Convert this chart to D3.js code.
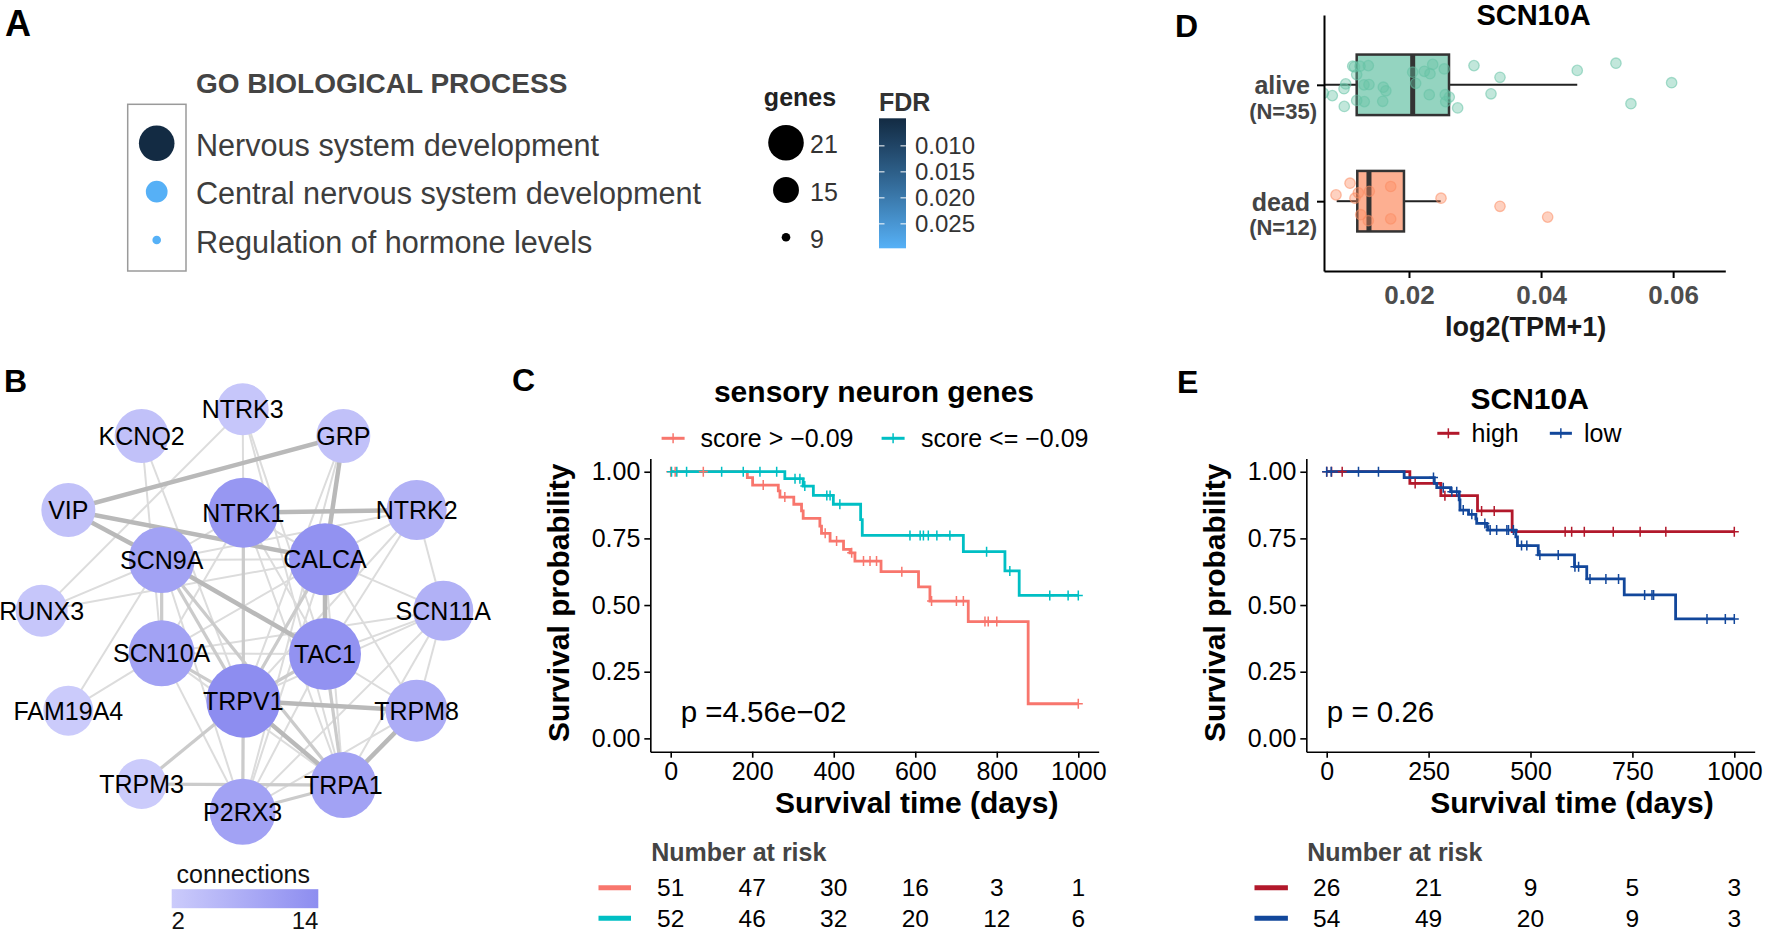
<!DOCTYPE html>
<html><head><meta charset="utf-8">
<script src="https://cdn.jsdelivr.net/npm/d3@7"></script>
<style>body{margin:0;background:#fff;}svg{display:block;}text{font-family:"Liberation Sans",Arial,Helvetica,sans-serif;}</style>
</head><body><svg id="chart" width="1770" height="936"></svg>
<script>
// ================= DATA =================
// Panel A
const goTerms = ["Nervous system development","Central nervous system development","Regulation of hormone levels"];
const goGenes = [21, 13, 9];
const goFDR = [0.0047, 0.0296, 0.0297];
const geneLegend = [21, 15, 9];
const fdrTicks = [0.010, 0.015, 0.020, 0.025];
const fdrRange = [0.0047, 0.0297];

// Panel B (layout coordinates in layout units)
const geneNames = ["NTRK3","KCNQ2","GRP","VIP","NTRK1","NTRK2","SCN9A","CALCA","RUNX3","SCN11A","SCN10A","TAC1","FAM19A4","TRPV1","TRPM8","TRPM3","TRPA1","P2RX3"];
const geneConnections = [3,4,4,4,12,7,10,13,3,7,10,13,2,14,8,2,10,10];
const layoutX = [728,425,1030,205,730,1250,485,975,125,1330,485,975,205,730,1250,425,1030,728];
const layoutY = [148,228,228,450,458,450,600,598,752,752,880,882,1052,1022,1052,1272,1275,1355];
const edges = [
 ["VIP","GRP",3],["VIP","CALCA",3],["VIP","SCN9A",3],["NTRK1","NTRK2",3],["SCN9A","TAC1",3],
 ["GRP","CALCA",3],["CALCA","TAC1",3],["TRPV1","TRPM8",3],["TRPV1","TRPA1",3],["TRPA1","TRPM8",3],
 ["SCN10A","TRPV1",2],["TRPV1","CALCA",2],["TRPV1","TAC1",2],["TRPV1","P2RX3",2],["NTRK1","TRPV1",2],
 ["TRPM3","TRPA1",2],["TRPM3","TRPV1",2],["SCN9A","SCN10A",2],["SCN9A","TRPV1",2],["SCN9A","TRPA1",2],
 ["P2RX3","TRPA1",2],["TAC1","TRPA1",2],["SCN9A","P2RX3",1],["CALCA","TRPA1",1],["TAC1","P2RX3",1],
 ["SCN10A","TAC1",1],["SCN10A","P2RX3",1],["SCN10A","TRPA1",1],["SCN10A","CALCA",1],["NTRK3","NTRK1",1],
 ["NTRK3","RUNX3",1],["NTRK3","TAC1",1],["NTRK3","TRPA1",1],["KCNQ2","SCN10A",1],["KCNQ2","TRPV1",1],
 ["GRP","TRPV1",1],["GRP","P2RX3",1],["RUNX3","SCN9A",1],["RUNX3","CALCA",1],["FAM19A4","SCN10A",1],
 ["FAM19A4","SCN9A",1],["NTRK2","CALCA",1],["NTRK2","SCN9A",1],["NTRK2","TRPV1",1],["NTRK2","SCN11A",1],
 ["NTRK2","TAC1",1],["SCN11A","SCN10A",1],["SCN11A","TRPV1",1],["SCN11A","TAC1",1],["SCN11A","TRPA1",1],
 ["SCN11A","CALCA",1],["SCN11A","TRPM8",1],["SCN11A","P2RX3",1],["CALCA","TRPM8",1],["CALCA","P2RX3",1],
 ["TAC1","TRPM8",1],["P2RX3","TRPM8",1],["NTRK1","TAC1",1],["NTRK1","TRPA1",1],["NTRK1","SCN10A",1],
 ["NTRK1","CALCA",1],["SCN9A","CALCA",1],["SCN9A","NTRK1",1]
];
const connLegend = [2, 14];

// Panel C
const cTimeTicks = [0,200,400,600,800,1000];
const cLabels = ["score > \u22120.09","score <= \u22120.09"];
const cHighTimes = [188,201,264,268,302,321,325,366,370,391,424,440,452,516,608,636,730,877];
const cHighSurv = [0.978,0.95,0.928,0.905,0.878,0.853,0.825,0.796,0.769,0.74,0.709,0.696,0.665,0.625,0.568,0.515,0.438,0.13];
const cHighCensor = [0,11,80,227,280,379,407,444,473,489,505,567,640,701,718,771,779,800,1000];
const cLowTimes = [280,325,350,399,466,470,718,820,855];
const cLowSurv = [0.974,0.946,0.911,0.878,0.82,0.761,0.70,0.628,0.536];
const cLowCensor = [2,15,39,125,178,219,260,305,317,329,383,391,415,587,612,620,632,653,685,775,832,930,975,1000];
const cRiskHigh = [51,47,30,16,3,1];
const cRiskLow = [52,46,32,20,12,6];
const cPValue = "p =4.56e\u221202";

// Panel D
const dGroups = ["alive","dead"];
const dGroupN = [35,12];
const dTicks = [0.02,0.04,0.06];
const aliveStats = [0.00703,0.01208,0.02056,0.02606,0.04548]; // lower whisker, Q1, median, Q3, upper whisker
const deadStats = [0.00905,0.01217,0.01394,0.01924,0.0248];
const aliveValues = [0.00703,0.00839,0.01020,0.01016,0.01042,0.01148,0.01208,0.01258,0.01208,0.01319,0.01323,0.01384,0.01394,0.01611,0.01602,0.02056,0.02101,0.02232,0.02307,0.02318,0.02359,0.02534,0.02610,0.02556,0.02737,0.02984,0.03378,0.03242,0.04548,0.05134,0.05361,0.05977,0.01175,0.0255,0.0165];
const aliveJitter = [0.28,0.36,0.72,0.13,-0.03,-0.62,-0.34,-0.62,0.52,0,0.56,-0.64,-0.01,0.08,0.55,-0.42,-0.05,-0.45,0.33,-0.37,-0.68,-0.53,0.41,0.56,0.77,-0.64,-0.25,0.30,-0.48,-0.72,0.63,-0.07,-0.60,0.33,0.20];
const deadValues = [0.00895,0.01107,0.01182,0.01233,0.01269,0.01384,0.01399,0.01723,0.01723,0.02485,0.03378,0.041];
const deadJitter = [-0.21,-0.60,-0.10,-0.28,0.45,0.65,-0.33,-0.49,0.59,-0.10,0.17,0.53];

// Panel E
const eTimeTicks = [0,250,500,750,1000];
const eLabels = ["high","low"];
const eHighTimes = [204,280,370,455];
const eHighSurv = [0.956,0.91,0.853,0.775];
const eHighCensor = [0,12,38,217,290,380,411,585,601,632,703,769,832,1000];
const eLowTimes = [190,264,270,304,325,327,348,366,368,393,395,464,468,519,608,638,730,856];
const eLowSurv = [0.978,0.956,0.94,0.925,0.894,0.856,0.84,0.823,0.806,0.794,0.781,0.756,0.723,0.688,0.644,0.598,0.538,0.448];
const eLowCensor = [0,11,78,127,262,286,307,319,335,356,388,401,417,442,446,458,478,491,523,568,609,618,646,685,716,780,798,802,933,978,1000];
const eRiskHigh = [26,21,9,5,3];
const eRiskLow = [54,49,20,9,3];
const ePValue = "p = 0.26";

// ================= DRAW =================
const FONT = '"Liberation Sans", Arial, Helvetica, sans-serif';
const svg = d3.select("#chart");
svg.append("rect").attr("width",1770).attr("height",936).attr("fill","#fff");
const defs = svg.append("defs");

function txt(g, s, x, y, size, opts={}) {
  const t = g.append("text").attr("x",x).attr("y",y).attr("font-size",size)
    .attr("font-family",FONT).attr("fill",opts.fill||"#000").text(s);
  if (opts.bold) t.attr("font-weight","bold");
  if (opts.anchor) t.attr("text-anchor",opts.anchor);
  return t;
}

// Panel letters
txt(svg,"A",5,36,36,{bold:true});
txt(svg,"B",4,392,32,{bold:true});
txt(svg,"C",512,391,32,{bold:true});
txt(svg,"D",1175,37,32,{bold:true});
txt(svg,"E",1177,393,32,{bold:true});

// ---------- Panel A ----------
(function(){
  const g = svg.append("g");
  txt(g,"GO BIOLOGICAL PROCESS",196,93,28,{bold:true,fill:"#444"});
  g.append("rect").attr("x",127.7).attr("y",104.3).attr("width",58.3).attr("height",166.7)
    .attr("fill","none").attr("stroke","#9a9a9a").attr("stroke-width",1.5);
  const yTerm = d3.scalePoint().domain(goTerms).range([143.3,240]);
  const area = d3.scaleLinear().domain([9,21]).range([4.3*4.3,17.8*17.8]);
  const rSize = v => Math.sqrt(area(v));
  const fdrColor = d3.scaleLinear().domain(fdrRange).range(["#132B43","#56B1F7"]).interpolate(d3.interpolateLab);
  goTerms.forEach((term,i)=>{
    g.append("circle").attr("cx",156.7).attr("cy",yTerm(term)).attr("r",rSize(goGenes[i])).attr("fill",fdrColor(goFDR[i]));
    txt(g,term,196,yTerm(term)+12.5,30.6,{fill:"#3d3d3d"});
  });
  // genes legend
  txt(g,"genes",800,106,25,{bold:true,anchor:"middle",fill:"#222"});
  const yGene = d3.scalePoint().domain(geneLegend).range([142.7,237.3]);
  geneLegend.forEach(v=>{
    g.append("circle").attr("cx",786).attr("cy",yGene(v)).attr("r",rSize(v)).attr("fill","#000");
    txt(g,String(v),810,yGene(v)+10.5,25,{fill:"#333"});
  });
  // FDR colorbar
  txt(g,"FDR",879,110.7,25,{bold:true,fill:"#333"});
  const fy = d3.scaleLinear().domain(fdrRange).range([118.3,248.3]);
  const grad = defs.append("linearGradient").attr("id","fdrgrad").attr("x1",0).attr("y1",0).attr("x2",0).attr("y2",1);
  d3.range(0,1.0001,0.1).forEach(p=>{
    grad.append("stop").attr("offset",p).attr("stop-color",fdrColor(fdrRange[0]+p*(fdrRange[1]-fdrRange[0])));
  });
  g.append("rect").attr("x",879).attr("y",118.3).attr("width",27).attr("height",130).attr("fill","url(#fdrgrad)");
  fdrTicks.forEach(t=>{
    g.append("line").attr("x1",879).attr("x2",884.5).attr("y1",fy(t)).attr("y2",fy(t)).attr("stroke","#fff").attr("stroke-width",1);
    g.append("line").attr("x1",900.5).attr("x2",906).attr("y1",fy(t)).attr("y2",fy(t)).attr("stroke","#fff").attr("stroke-width",1);
    txt(g,d3.format(".3f")(t),915,fy(t)+8.5,24,{fill:"#333"});
  });
})();

// ---------- Panel B ----------
(function(){
  const g = svg.append("g");
  const bx = d3.scaleLinear().domain([0,1560]).range([0,520]);
  const by = d3.scaleLinear().domain([0,1500]).range([360,860]);
  const rConn = d3.scaleLinear().domain([2,14]).range([25,37]);
  const cConn = d3.scaleLinear().domain([2,14]).range(["#cbcbfb","#8d8df0"]);
  const idx = {}; geneNames.forEach((n,i)=>idx[n]=i);
  const ew = d3.scaleLinear().domain([1,3]).range([2,4.5]);
  const ec = d3.scaleLinear().domain([1,3]).range(["#dcdcdc","#b9b9b9"]);
  edges.slice().sort((a,b)=>a[2]-b[2]).forEach(e=>{
    const a = idx[e[0]], b = idx[e[1]];
    g.append("line").attr("x1",bx(layoutX[a])).attr("y1",by(layoutY[a])).attr("x2",bx(layoutX[b])).attr("y2",by(layoutY[b]))
      .attr("stroke",ec(e[2])).attr("stroke-width",ew(e[2]));
  });
  geneNames.forEach((n,i)=>{
    g.append("circle").attr("cx",bx(layoutX[i])).attr("cy",by(layoutY[i])).attr("r",rConn(geneConnections[i])).attr("fill",cConn(geneConnections[i]));
  });
  geneNames.forEach((n,i)=>{
    txt(g,n,bx(layoutX[i]),by(layoutY[i])+9,25,{anchor:"middle",fill:"#000"});
  });
  // legend
  txt(g,"connections",243.3,883,25,{anchor:"middle",fill:"#111"});
  const lg = defs.append("linearGradient").attr("id","conngrad");
  lg.append("stop").attr("offset",0).attr("stop-color",cConn(connLegend[0]));
  lg.append("stop").attr("offset",1).attr("stop-color",cConn(connLegend[1]));
  g.append("rect").attr("x",171.7).attr("y",889.2).attr("width",146.6).attr("height",19).attr("fill","url(#conngrad)");
  const lx = d3.scaleLinear().domain(connLegend).range([178.3,305]);
  connLegend.forEach(v=>txt(g,String(v),lx(v),929,24,{anchor:"middle",fill:"#111"}));
})();

// ---------- KM panels ----------
function survAt(times, surv, t){ let s=1; for(let i=0;i<times.length;i++){ if(times[i]<=t) s=surv[i]; } return s; }
function drawKM(c){
  const g = svg.append("g");
  const x = d3.scaleLinear().domain([0,1000]).range([c.x0,c.x1]);
  const padX = (c.x1-c.x0)*0.05;
  const xe = d3.scaleLinear().domain([-50,1050]).range([c.x0-padX,c.x1+padX]);
  const y = d3.scaleLinear().domain([0,1]).range([738.4,471.7]);
  const ye = d3.scaleLinear().domain([-0.05,1.05]).range([751.7,458.4]);
  const ax = g.append("g").attr("transform","translate(0,751.7)")
    .call(d3.axisBottom(xe).tickValues(c.ticks).tickSize(6).tickSizeOuter(0).tickPadding(5).tickFormat(d3.format("d")));
  const ay = g.append("g").attr("transform",`translate(${c.x0-padX},0)`)
    .call(d3.axisLeft(ye).tickValues([0,0.25,0.5,0.75,1]).tickSize(6).tickSizeOuter(0).tickPadding(4).tickFormat(d3.format(".2f")));
  [ax,ay].forEach(a=>{
    a.attr("font-family",FONT).attr("font-size",25);
    a.selectAll("path.domain").attr("stroke","#000").attr("stroke-width",1.6);
    a.selectAll(".tick line").attr("stroke","#000").attr("stroke-width",1.6);
    a.selectAll(".tick text").attr("fill","#000");
  });
  const line = d3.line().x(d=>x(d[0])).y(d=>y(d[1])).curve(d3.curveStepAfter);
  c.series.forEach(s=>{
    const pts = [[0,1]].concat(s.times.map((t,i)=>[t,s.surv[i]])).concat([[1000,s.surv[s.surv.length-1]]]);
    g.append("path").attr("d",line(pts)).attr("fill","none").attr("stroke",s.color).attr("stroke-width",2.8);
  });
  c.series.forEach(s=>{
    s.censor.forEach(t=>{
      const cx = x(t), cy = y(survAt(s.times,s.surv,t));
      g.append("path").attr("d",`M${cx-4.5},${cy}H${cx+4.5}M${cx},${cy-5}V${cy+5}`).attr("stroke",s.color).attr("stroke-width",1.5).attr("fill","none");
    });
  });
  // title & legend
  txt(g,c.title,c.titleX,c.titleY,30,{bold:true,anchor:"middle"});
  c.series.forEach((s,i)=>{
    const L = c.legend[i];
    g.append("line").attr("x1",L[0]).attr("x2",L[1]).attr("y1",c.legendY).attr("y2",c.legendY).attr("stroke",s.color).attr("stroke-width",3);
    const mx=(L[0]+L[1])/2;
    g.append("line").attr("x1",mx).attr("x2",mx).attr("y1",c.legendY-5).attr("y2",c.legendY+5).attr("stroke",s.color).attr("stroke-width",1.5);
    txt(g,s.label,L[2],c.legendTextY,25);
  });
  // axis titles
  txt(g,"Survival probability",0,0,30,{bold:true,anchor:"middle"}).attr("transform",`translate(${c.yTitleX},602.7) rotate(-90)`).attr("dy","0.36em");
  txt(g,"Survival time (days)",c.xTitleX,813,30,{bold:true,anchor:"middle"});
  txt(g,c.p,c.pX,721.7,29.5);
  // risk table
  txt(g,"Number at risk",c.x0-19.4,861,25,{bold:true,fill:"#444"});
  const rows=[887.7,918.3];
  c.series.forEach((s,i)=>{
    g.append("line").attr("x1",c.riskMark[0]).attr("x2",c.riskMark[1]).attr("y1",rows[i]).attr("y2",rows[i]).attr("stroke",s.color).attr("stroke-width",5);
    s.risk.forEach((n,j)=>txt(g,String(n),x(c.ticks[j]),rows[i]+8.7,24.5,{anchor:"middle"}));
  });
}

drawKM({
  x0:670.7, x1:1078.3, ticks:cTimeTicks, title:"sensory neuron genes", titleX:874, titleY:402,
  legendY:438.3, legendTextY:447, legend:[[661.6,684.6,700.6],[881.6,904.6,921]],
  yTitleX:558.3, xTitleX:916.7, p:cPValue, pX:680.7, riskMark:[598.5,631],
  series:[
    {label:cLabels[0],color:"#F8766D",times:cHighTimes,surv:cHighSurv,censor:cHighCensor,risk:cRiskHigh},
    {label:cLabels[1],color:"#00BFC4",times:cLowTimes,surv:cLowSurv,censor:cLowCensor,risk:cRiskLow}
  ]
});
drawKM({
  x0:1326.7, x1:1734.3, ticks:eTimeTicks, title:"SCN10A", titleX:1529.7, titleY:409,
  legendY:433.3, legendTextY:442, legend:[[1437.3,1459.4,1471.5],[1549.8,1571.9,1584]],
  yTitleX:1214.3, xTitleX:1571.9, p:ePValue, pX:1326.8, riskMark:[1254.5,1287.9],
  series:[
    {label:eLabels[0],color:"#B2182B",times:eHighTimes,surv:eHighSurv,censor:eHighCensor,risk:eRiskHigh},
    {label:eLabels[1],color:"#12479B",times:eLowTimes,surv:eLowSurv,censor:eLowCensor,risk:eRiskLow}
  ]
});

// ---------- Panel D ----------
(function(){
  const g = svg.append("g");
  const dx = d3.scaleLinear().domain([0.00713,0.0679]).range([1324,1725.3]);
  const dy = d3.scalePoint().domain(dGroups).range([15,271]).padding(0.6);
  const half = dy.step()*0.26;
  const jit = d3.scaleLinear().domain([-1,1]).range([-30,30]);
  const fills = ["#66c2a5","#fc8d62"];
  defs.append("clipPath").attr("id","dclip").append("rect").attr("x",1324).attr("y",15).attr("width",402).attr("height",256);
  const stats = [aliveStats, deadStats];
  const vals = [aliveValues, deadValues];
  const jits = [aliveJitter, deadJitter];
  const pg = g.append("g").attr("clip-path","url(#dclip)");
  dGroups.forEach((grp,i)=>{
    const cy = dy(grp), s = stats[i];
    pg.append("line").attr("x1",dx(s[0])).attr("x2",dx(s[1])).attr("y1",cy).attr("y2",cy).attr("stroke","#222").attr("stroke-width",2);
    pg.append("line").attr("x1",dx(s[3])).attr("x2",dx(s[4])).attr("y1",cy).attr("y2",cy).attr("stroke","#222").attr("stroke-width",2);
    pg.append("rect").attr("x",dx(s[1])).attr("y",cy-half).attr("width",dx(s[3])-dx(s[1])).attr("height",2*half)
      .attr("fill",fills[i]).attr("fill-opacity",0.7).attr("stroke","#333").attr("stroke-width",2.5);
    pg.append("line").attr("x1",dx(s[2])).attr("x2",dx(s[2])).attr("y1",cy-half).attr("y2",cy+half).attr("stroke","#333").attr("stroke-width",5);
    vals[i].forEach((v,k)=>{
      pg.append("circle").attr("cx",dx(v)).attr("cy",cy+jit(jits[i][k])).attr("r",5.2)
        .attr("fill",fills[i]).attr("fill-opacity",0.4).attr("stroke",fills[i]).attr("stroke-opacity",0.55).attr("stroke-width",1.3);
    });
  });
  const ax = g.append("g").attr("transform","translate(0,271)")
    .call(d3.axisBottom(dx).tickValues(dTicks).tickSize(7).tickSizeOuter(0).tickPadding(8).tickFormat(d3.format(".2f")));
  ax.attr("font-family",FONT).attr("font-size",26);
  ax.selectAll("path.domain").attr("stroke","#000").attr("stroke-width",2);
  ax.selectAll(".tick line").attr("stroke","#000").attr("stroke-width",2);
  ax.selectAll(".tick text").attr("fill","#4d4d4d").attr("font-weight","bold");
  const ay = g.append("g").attr("transform","translate(1324,0)")
    .call(d3.axisLeft(dy).tickSize(7).tickSizeOuter(0).tickFormat(""));
  ay.select("path.domain").attr("stroke","#000").attr("stroke-width",2);
  ay.selectAll(".tick line").attr("stroke","#000").attr("stroke-width",2);
  dGroups.forEach((grp,i)=>{
    txt(g,grp,1310,dy(grp)+9.5,25,{bold:true,anchor:"end",fill:"#444"});
    txt(g,`(N=${dGroupN[i]})`,1317,dy(grp)+34,22,{bold:true,anchor:"end",fill:"#444"});
  });
  txt(g,"SCN10A",1533.6,25,29,{bold:true,anchor:"middle"});
  txt(g,"log2(TPM+1)",1525.6,336,27,{bold:true,anchor:"middle",fill:"#1a1a1a"});
})();
</script></body></html>
